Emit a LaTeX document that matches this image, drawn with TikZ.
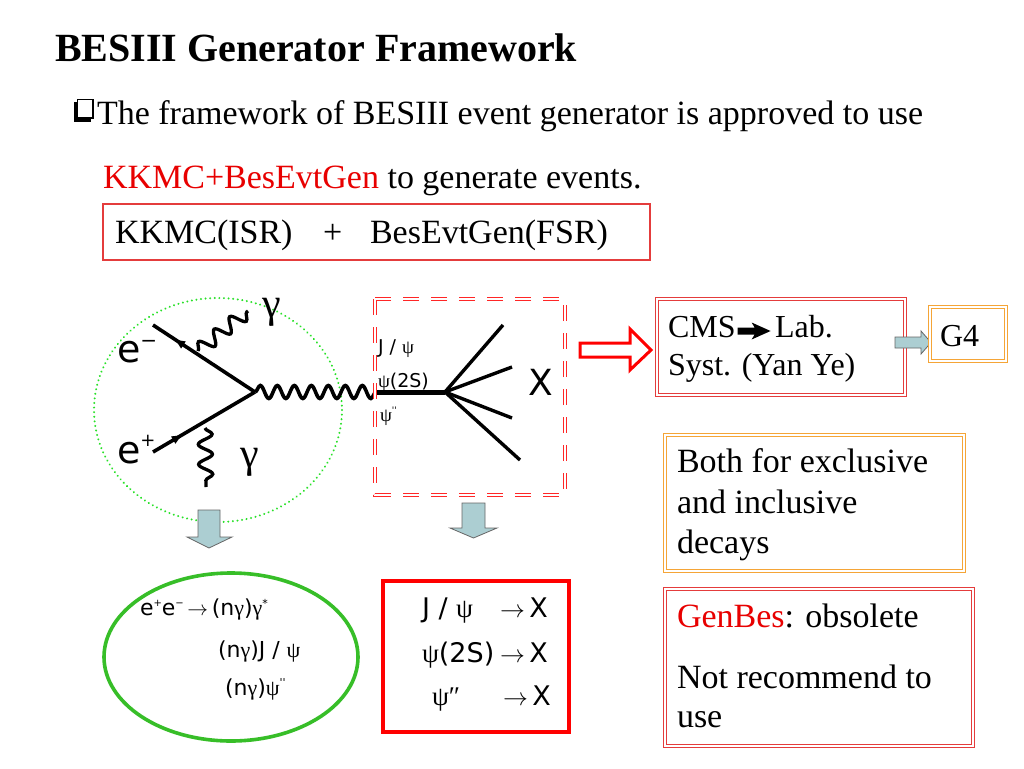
\documentclass[tikz,border=0pt]{standalone}
\usepackage{fontspec}
\setmainfont{Liberation Serif}
\newfontfamily\sansf{DejaVu Sans}
\usetikzlibrary{decorations.pathmorphing,decorations.markings,arrows.meta}
\newcommand\fsz[1]{\fontsize{#1}{#1}\selectfont}
\newcommand\gr[1]{{\rmfamily #1}}
\newcommand\tinysup[2]{\raisebox{#1}{\fsz{#2}''}}
\definecolor{kred}{RGB}{232,0,0}
\definecolor{boxred}{RGB}{228,60,60}
\definecolor{orng}{RGB}{245,165,55}
\definecolor{ltblue}{RGB}{172,206,210}
\definecolor{dotgreen}{RGB}{40,225,40}
\definecolor{elgreen}{RGB}{55,190,40}
\begin{document}
\begin{tikzpicture}[x=1pt,y=-1pt,
  every node/.style={inner sep=0pt,outer sep=0pt,anchor=base west},
  body/.style={font=\fsz{34}},
  cmsfont/.style={font=\fsz{32}},
  dbl/.style={line width=0.9pt,double=white,double distance=2pt},
  fer/.style={line width=3.6pt},
  fermark/.style={postaction={decorate},decoration={markings,mark=at position #1 with {\arrow{Latex[length=12pt,width=9pt]}}}},
  ph/.style={line width=3.3pt,decorate,decoration={snake,segment length=20pt,amplitude=7pt}},
  blkarrow/.style={fill=ltblue,draw=black!60,line width=0.8pt},
  lbl/.style={font=\sansf\fsz{19}},
  ellt/.style={font=\sansf\fsz{22}},
  boxt/.style={font=\sansf\fsz{27}},
  bigsans/.style={font=\sansf\fsz{38}},
  gam/.style={font=\fsz{42},anchor=center}
]
\useasboundingbox (0,0) rectangle (1024,768);
\fill[white] (0,0) rectangle (1024,768);

% ---- title and text ----
\node[font=\bfseries\fsz{40}] (title) at (55,62) {BESIII Generator Framework};
\fill[black] (74,102) rectangle (91,122);
\draw[black,line width=1.4pt,fill=white] (77.5,99.5) rectangle (93,118);
\node[body] (line1) at (97,124) {The framework of BESIII event generator is approved to use};
\node[body] (line2) at (103,188) {{\color{kred}KKMC+BesEvtGen} to generate events.};
\draw[boxred,line width=1.2pt] (103,204) rectangle (650,260);
\node[body] (kk1) at (115,243) {KKMC(ISR)};
\node[body] (kk2) at (323,243) {+};
\node[body] (kk3) at (370,243) {BesEvtGen(FSR)};

% ---- Feynman diagram ----
\draw[dotgreen,line width=2.2pt,line cap=round,dash pattern=on 0.01pt off 4.6pt] (218,410) ellipse [x radius=124, y radius=112];
\coordinate (v) at (255,392);
\coordinate (em) at (153,325);
\coordinate (ep) at (153,452);
\coordinate (jl) at (377,392);
\coordinate (bv) at (445,392);
\coordinate (b1) at (503,325);
\coordinate (b2) at (512,367);
\coordinate (b3) at (512,418);
\coordinate (b4) at (520,460);
\coordinate (p1s) at (198,351);
\coordinate (p1e) at (248,311);
\coordinate (p2s) at (205,428);
\coordinate (p2e) at (206,487);
\draw[fer,fermark=0.8] (v) -- (em);
\draw[fer,fermark=0.3] (ep) -- (v);
\draw[line width=3.6pt,decorate,decoration={snake,segment length=17pt,amplitude=6.5pt}] (v) -- (jl);
\draw[ph] (p1s) -- (p1e);
\draw[ph] (p2s) -- (p2e);
\draw[line width=5pt] (jl) -- (bv);
\draw[line width=3.4pt] (bv) -- (b1);
\draw[line width=3.4pt] (bv) -- (b2);
\draw[line width=3.4pt] (bv) -- (b3);
\draw[line width=3.4pt] (bv) -- (b4);
\node[bigsans] (eminus) at (117,362) {e\raisebox{15pt}{\fsz{20}−}};
\node[bigsans] (eplus) at (117,463) {e\raisebox{17pt}{\fsz{18}+}};
\node[gam] (g1) at (272,312) {γ};
\node[gam] (g2) at (250,462) {γ};
\node[font=\sansf\fsz{36}] (X) at (528,395) {X};
\node[lbl] (jpsi) at (378,353) {J / \gr{ψ}};
\node[lbl] (psi2s) at (378,387) {\gr{ψ}(2S)};
\node[lbl] (psipp) at (380,421) {\gr{ψ}\tinysup{8pt}{9}};
\draw[red!85!white,dbl,dash pattern=on 16pt off 12pt] (375,299) rectangle (565,495);

% ---- red hollow arrow ----
\draw[red,line width=3pt,fill=white,line join=miter] (580,343) -- (630,343) -- (630,329) -- (651,350) -- (630,370) -- (630,357) -- (580,357) -- cycle;

% ---- CMS box and G4 ----
\draw[boxred,dbl] (657,299) rectangle (905,395);
\node[cmsfont] (cms1) at (668,337) {CMS};
\fill[black] (cms1.base east) ++(2,-9.5) coordinate (ar0)
  -- ++(17,0) -- ++(-3,-5) -- ++(19,8.5) -- ++(-19,8.5) -- ++(3,-5) -- ++(-17,0) -- cycle;
\node[cmsfont] (cms1b) at (775,337) {Lab.};
\node[cmsfont] (cms2) at (668,375) {Syst. (Yan Ye)};
\draw[blkarrow] (895,337) -- (921,337) -- (921,331) -- (931,342.5) -- (921,354) -- (921,348) -- (895,348) -- cycle;
\draw[orng,dbl] (930,307) rectangle (1006,361);
\node[font=\fsz{32}] (g4) at (940,346) {G4};

% ---- Both box ----
\draw[orng,dbl] (665,435) rectangle (964,571);
\node[body] (b1t) at (677,472) {Both for exclusive};
\node[body] (b2t) at (677,513) {and inclusive};
\node[body] (b3t) at (677,553) {decays};

% ---- GenBes box ----
\draw[boxred,dbl] (665,589) rectangle (973,746);
\node[body] (gb1) at (677,627) {{\color{kred}GenBes}: obsolete};
\node[body] (gb2) at (677,688) {Not recommend to};
\node[body] (gb3) at (677,727) {use};

% ---- down arrows ----
\draw[blkarrow] (198,510) -- (220,510) -- (220,537) -- (232,537) -- (209,548) -- (187,537) -- (198,537) -- cycle;
\draw[blkarrow] (462,503) -- (485,503) -- (485,528) -- (497,528) -- (473.5,538) -- (450,528) -- (462,528) -- cycle;

% ---- green ellipse ----
\draw[elgreen,line width=3.6pt] (231,657) ellipse [x radius=127, y radius=84];
\node[ellt] (el1) at (140,615) {e\raisebox{9pt}{\fsz{10}+}e\raisebox{9pt}{\fsz{10}−}\,$\rightarrow$\,(n\gr{γ})\gr{γ}\raisebox{8pt}{\fsz{11}*}};
\node[ellt] (el2) at (218,657) {(n\gr{γ})J / \gr{ψ}};
\node[ellt] (el3) at (225,695) {(n\gr{γ})\gr{ψ}\tinysup{9pt}{11}};

% ---- red box ----
\draw[red,line width=3.6pt] (383,581) rectangle (569,732);
\node[boxt] (r1) at (422,617) {J / \gr{ψ}};
\node[boxt] (r2) at (422,662) {\gr{ψ}(2S)};
\node[boxt] (r3) at (432,705) {\gr{ψ}\gr{″}};
\node[boxt] (ra1) at (500,617) {$\rightarrow$\,X};
\node[boxt] (ra2) at (500,662) {$\rightarrow$\,X};
\node[boxt] (ra3) at (503,705) {$\rightarrow$\,X};
\end{tikzpicture}
\end{document}
